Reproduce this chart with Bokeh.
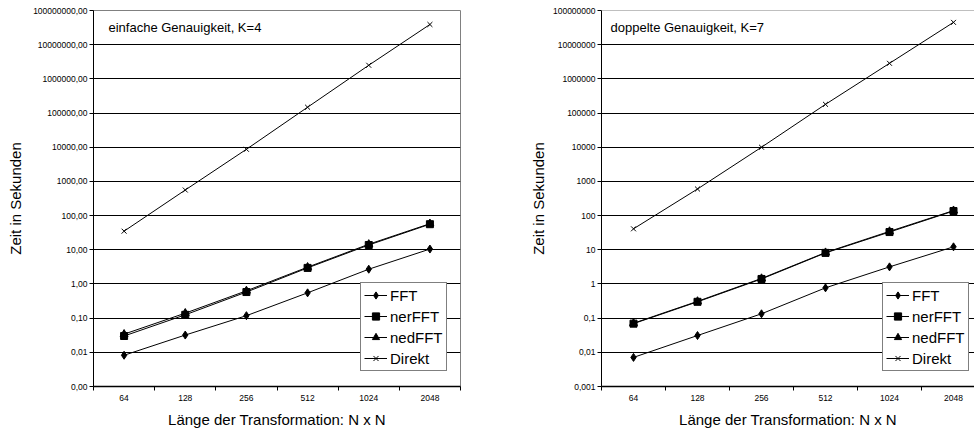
from bokeh.plotting import figure
from bokeh.layouts import row
from bokeh.models import FixedTicker, Range1d, Label, Span
from bokeh.embed import file_html
from bokeh.resources import INLINE

# ---------------- data ----------------
sizes = [64, 128, 256, 512, 1024, 2048]
series_names = ["FFT", "nerFFT", "nedFFT", "Direkt"]

single_fft = [0.0082, 0.032, 0.118, 0.55, 2.7, 10.5]
single_nerfft = [0.030, 0.125, 0.58, 2.95, 13.8, 56]
single_nedfft = [0.034, 0.140, 0.63, 3.1, 14.5, 58]
single_direkt = [35, 560, 8700, 148000, 2.5e6, 3.9e7]

double_fft = [0.0071, 0.031, 0.134, 0.77, 3.16, 12.2]
double_nerfft = [0.069, 0.30, 1.40, 8.1, 33, 136]
double_nedfft = [0.071, 0.31, 1.45, 8.3, 34.5, 140]
double_direkt = [41, 600, 10000, 180000, 2.85e6, 4.5e7]

y_ticks = [0.001, 0.01, 0.1, 1.0, 10.0, 100.0, 1000.0, 10000.0, 100000.0,
           1000000.0, 10000000.0, 100000000.0]
y_labels_single = ["0,00", "0,01", "0,10", "1,00", "10,00", "100,00", "1000,00",
                   "10000,00", "100000,00", "1000000,00", "10000000,00", "100000000,00"]
y_labels_double = ["0,001", "0,01", "0,1", "1", "10", "100", "1000", "10000",
                   "100000", "1000000", "10000000", "100000000"]

notes = ["einfache Genauigkeit, K=4", "doppelte Genauigkeit, K=7"]
x_title = "Länge der Transformation: N x N"
y_title = "Zeit in Sekunden"

FONT = "Liberation Sans"
markers = ["diamond", "square", "triangle", "x"]
marker_sizes = [8, 7, 8, 7]


def make_panel(note, series, ylabels, x_end, width, border_left, border_right,
               legend_x, outline, ytitle_standoff):
    xs = list(range(len(sizes)))
    p = figure(width=width, height=430, y_axis_type="log",
               x_range=Range1d(-0.5, x_end), y_range=Range1d(y_ticks[0], y_ticks[-1]),
               output_backend="svg", toolbar_location=None,
               min_border_left=border_left, min_border_right=border_right,
               min_border_top=10, min_border_bottom=43)
    p.background_fill_color = "white"
    p.border_fill_color = "white"
    p.outline_line_color = "#808080" if outline else None

    for name, vals, mk, ms in zip(series_names, series, markers, marker_sizes):
        p.line(xs, vals, line_color="black", line_width=1, legend_label=name)
        p.scatter(xs, vals, marker=mk, size=ms, line_color="black",
                  fill_color="black", line_width=1, legend_label=name)

    # y axis
    yax = p.yaxis[0]
    yax.ticker = FixedTicker(ticks=y_ticks)
    yax.major_label_overrides = {t: l for t, l in zip(y_ticks, ylabels)}
    yax.minor_tick_line_color = None
    yax.major_tick_out = 4
    yax.major_tick_in = 0
    yax.major_label_standoff = 2
    yax.major_label_text_font = FONT
    yax.major_label_text_font_size = "8.5px"
    yax.major_label_text_color = "black"
    yax.axis_line_color = "black"
    yax.major_tick_line_color = "black"
    yax.axis_label = y_title
    yax.axis_label_text_font = FONT
    yax.axis_label_text_font_size = "15px"
    yax.axis_label_text_font_style = "normal"
    yax.axis_label_text_color = "black"
    yax.axis_label_standoff = ytitle_standoff

    # x axis (categories with boundary ticks)
    xax = p.xaxis[0]
    xax.ticker = FixedTicker(ticks=xs, minor_ticks=[i - 0.5 for i in range(len(sizes) + 1)])
    xax.major_label_overrides = {i: str(s) for i, s in zip(xs, sizes)}
    xax.major_tick_out = 0
    xax.major_tick_in = 0
    xax.minor_tick_out = 4
    xax.minor_tick_in = 0
    xax.minor_tick_line_color = "black"
    xax.major_label_standoff = 4
    xax.major_label_text_font = FONT
    xax.major_label_text_font_size = "8.5px"
    xax.major_label_text_color = "black"
    xax.axis_line_color = "black"
    xax.axis_line_width = 1.5
    xax.axis_label = x_title
    xax.axis_label_text_font = FONT
    xax.axis_label_text_font_size = "15px"
    xax.axis_label_text_font_style = "normal"
    xax.axis_label_text_color = "black"
    xax.axis_label_standoff = 7

    p.xgrid.visible = False
    p.ygrid.grid_line_color = "black"
    p.ygrid.grid_line_width = 1

    if not outline:
        p.add_layout(Span(location=y_ticks[-1], dimension="width",
                          line_color="#808080", line_width=1))

    p.add_layout(Label(x=15 if outline else 9, y=359, x_units="screen", y_units="screen",
                       text=note, text_font=FONT, text_font_size="13px",
                       text_color="black", text_baseline="middle"))

    lg = p.legend[0]
    lg.location = (legend_x, 15)
    lg.label_text_font = FONT
    lg.label_text_font_size = "15px"
    lg.label_text_color = "black"
    lg.glyph_width = 23
    lg.glyph_height = 18
    lg.label_height = 18
    lg.label_standoff = 3
    lg.spacing = 3
    lg.padding = 3
    lg.margin = 0
    lg.border_line_color = "black"
    lg.border_line_width = 1
    lg.background_fill_color = "white"
    lg.background_fill_alpha = 1.0
    return p


p1 = make_panel(notes[0], [single_fft, single_nerfft, single_nedfft, single_direkt],
                y_labels_single, 5.5, 487, 93, 27, 267, True, 6)
p2 = make_panel(notes[1], [double_fft, double_nerfft, double_nedfft, double_direkt],
                y_labels_double, 5.328, 487, 114, 0, 281, False, 3)

layout = row(p1, p2, spacing=0)
open("out.html", "w").write(file_html(layout, INLINE))
